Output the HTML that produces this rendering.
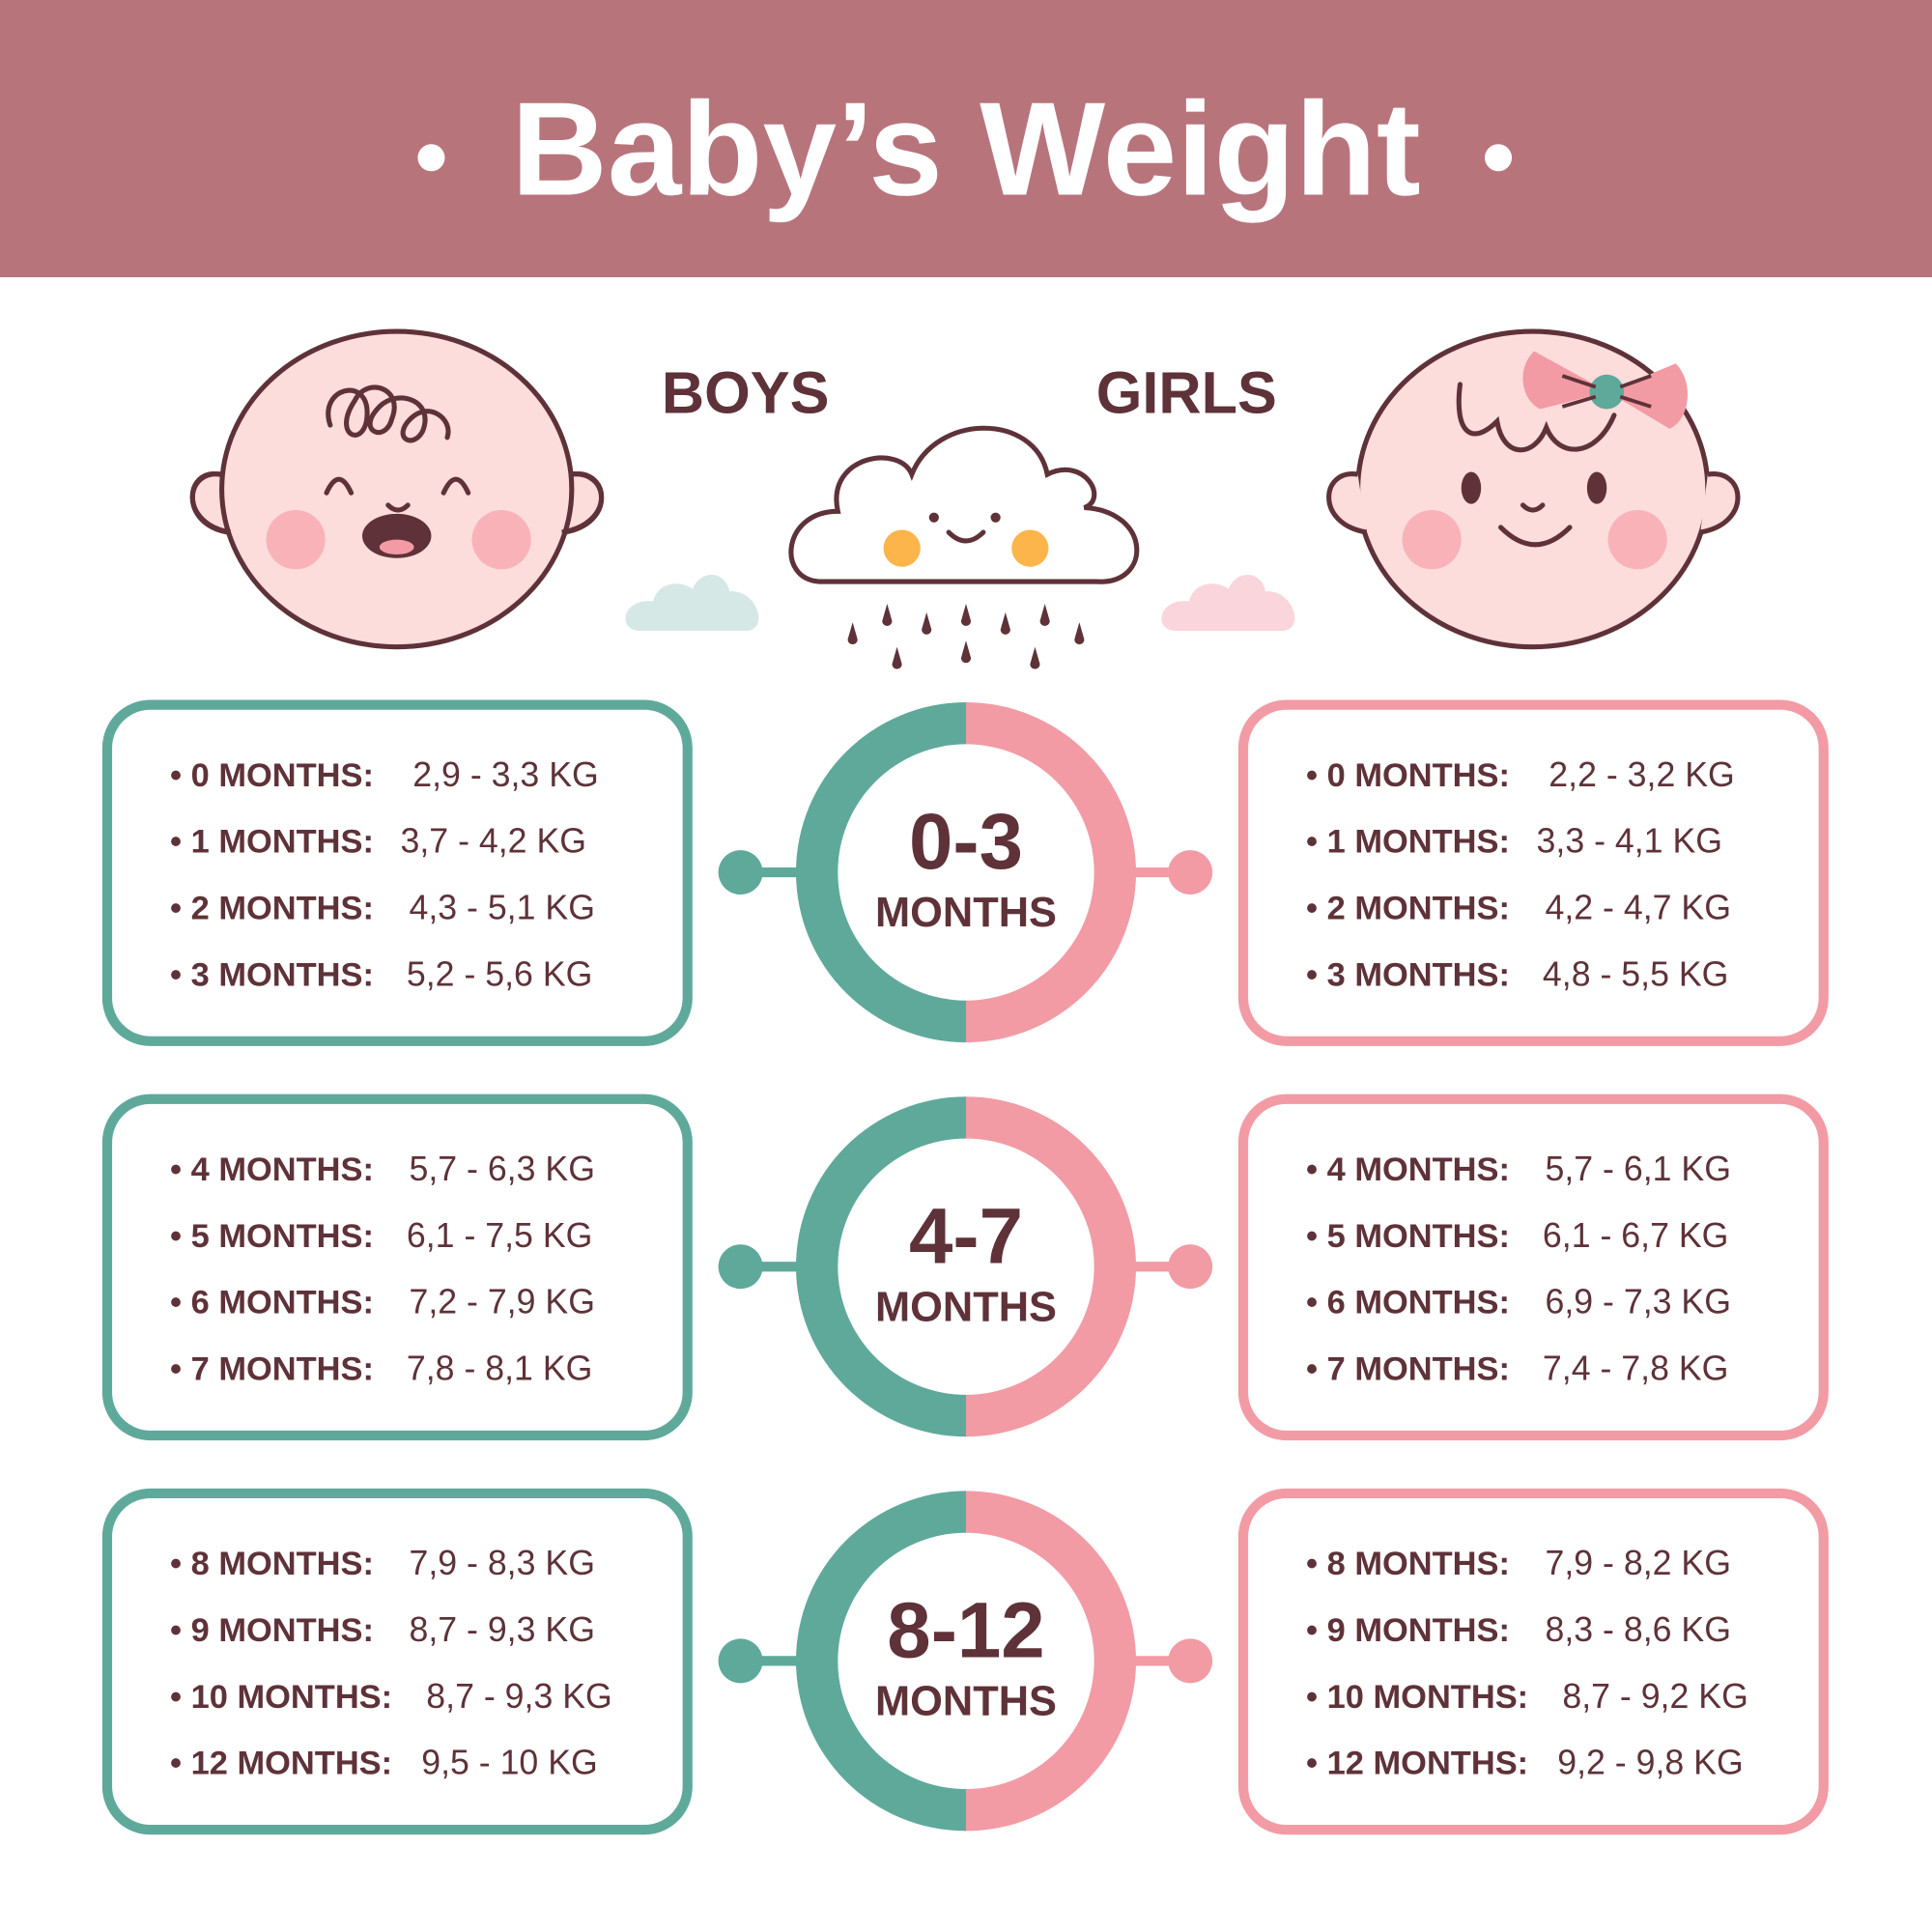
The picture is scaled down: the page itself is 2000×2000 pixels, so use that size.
<!DOCTYPE html>
<html><head><meta charset="utf-8"><style>
html,body{margin:0;padding:0;background:#fff}
svg{display:block}
.t{font-family:"Liberation Sans",sans-serif;fill:#5e3238}
.lb{font-weight:bold;font-size:27px}
.v{font-size:28px}
</style></head><body>
<svg width="2000" height="2000" viewBox="0 0 1568 1568" xmlns="http://www.w3.org/2000/svg">
<rect width="1568" height="1568" fill="#fff"/>
<rect width="1568" height="225" fill="#b8747b"/>
<circle cx="350" cy="128" r="11" fill="#fff"/>
<circle cx="1216" cy="128" r="11" fill="#fff"/>
<text x="784" y="158" text-anchor="middle" font-family="Liberation Sans,sans-serif" font-weight="bold" font-size="108" fill="#fff">Baby’s Weight</text>

<g stroke="#5e3238" stroke-width="4" fill="#fddcdc">
<path d="M180 385 C150 380 145 425 185 432 Z"/>
<path d="M462 385 C495 380 500 425 458 432 Z"/>
<ellipse cx="322" cy="397" rx="142" ry="128"/>
<path d="M178 385 C150 380 145 425 187 432" fill="none"/>
<path d="M464 385 C495 380 500 425 456 432" fill="none"/>
</g>
<circle cx="240" cy="438" r="24" fill="#f9b3b8"/>
<circle cx="407" cy="438" r="24" fill="#f9b3b8"/>
<g stroke="#5e3238" stroke-width="4" fill="none" stroke-linecap="round">
<path d="M265 400 q10 -22 20 0"/><path d="M360 400 q10 -22 20 0"/>
<path d="M315 410 q8 8 16 0"/>
<path d="M268 345 c-10 -30 30 -40 30 -10 c0 30 -30 20 -10 -10 c10 -20 40 -10 30 15 c-5 20 -30 10 -10 -10 c15 -15 45 -5 35 20 c-8 15 -25 5 -10 -10 c15 -15 35 0 30 15"/>
</g>
<ellipse cx="322" cy="435" rx="28" ry="18" fill="#5e3238"/>
<ellipse cx="322" cy="444" rx="14" ry="6" fill="#f29ba5"/>

<g stroke="#5e3238" stroke-width="4" fill="#fddcdc">
<ellipse cx="1244" cy="397" rx="142" ry="128"/>
<path d="M1102 385 C1072 380 1067 425 1109 432"/>
<path d="M1386 385 C1417 380 1422 425 1380 432"/>
</g>
<circle cx="1162" cy="438" r="24" fill="#f9b3b8"/>
<circle cx="1329" cy="438" r="24" fill="#f9b3b8"/>
<ellipse cx="1194" cy="396" rx="8" ry="13" fill="#5e3238"/>
<ellipse cx="1296" cy="396" rx="8" ry="13" fill="#5e3238"/>
<g stroke="#5e3238" stroke-width="4" fill="none" stroke-linecap="round">
<path d="M1218 428 q28 28 56 0"/>
<path d="M1236 410 q8 8 16 0"/>
<path d="M1185 312 c-5 40 10 50 30 30 c5 30 30 30 40 5 c10 25 40 25 55 -10"/>
</g>
<path d="M1305 318 L1245 285 C1230 300 1235 325 1250 332 Z" fill="#f29ba5"/>
<path d="M1305 318 L1360 295 C1375 310 1372 340 1355 348 Z" fill="#f29ba5"/>
<circle cx="1304" cy="318" r="14" fill="#5fa99b"/>
<g stroke="#5e3238" stroke-width="3"><line x1="1268" y1="305" x2="1295" y2="314"/><line x1="1268" y1="330" x2="1295" y2="322"/><line x1="1315" y1="314" x2="1340" y2="305"/><line x1="1315" y1="322" x2="1340" y2="330"/></g>

<text class="t" x="605" y="335" text-anchor="middle" font-weight="bold" font-size="48">BOYS</text>
<text class="t" x="963" y="335" text-anchor="middle" font-weight="bold" font-size="48">GIRLS</text>

<path d="M665 472 C630 470 635 415 680 415 C670 370 730 360 740 385 C760 335 840 335 850 385 C880 370 900 405 880 412 C935 415 935 475 890 472 Z" fill="#fff" stroke="#5e3238" stroke-width="4"/>
<circle cx="732" cy="445" r="15" fill="#fbb54a"/>
<circle cx="836" cy="445" r="15" fill="#fbb54a"/>
<g stroke="#5e3238" stroke-width="4" fill="none" stroke-linecap="round"><path d="M770 432 q14 14 28 0"/></g>
<circle cx="758" cy="420" r="4" fill="#5e3238"/><circle cx="808" cy="420" r="4" fill="#5e3238"/>
<g fill="#5e3238">
<path d="M692 505 l-4 14 a4 4 0 0 0 8 0z"/><path d="M720 490 l-4 14 a4 4 0 0 0 8 0z"/><path d="M752 497 l-4 14 a4 4 0 0 0 8 0z"/><path d="M784 490 l-4 14 a4 4 0 0 0 8 0z"/><path d="M816 497 l-4 14 a4 4 0 0 0 8 0z"/><path d="M848 490 l-4 14 a4 4 0 0 0 8 0z"/><path d="M876 505 l-4 14 a4 4 0 0 0 8 0z"/>
<path d="M728 525 l-4 14 a4 4 0 0 0 8 0z"/><path d="M784 520 l-4 14 a4 4 0 0 0 8 0z"/><path d="M840 525 l-4 14 a4 4 0 0 0 8 0z"/>
</g>
<path d="M520 512 C500 512 505 485 530 488 C535 470 555 472 562 478 C570 460 590 465 592 480 C615 478 625 512 605 512 Z" fill="#d5e8e6"/>
<path d="M955 512 C935 512 940 485 965 488 C970 470 990 472 997 478 C1005 460 1025 465 1027 480 C1050 478 1060 512 1040 512 Z" fill="#fbd5dc"/>

<g fill="none" stroke-width="8">
<rect x="87" y="572" width="471" height="273" rx="35" stroke="#5fa99b"/>
<rect x="87" y="892" width="471" height="273" rx="35" stroke="#5fa99b"/>
<rect x="87" y="1212" width="471" height="273" rx="35" stroke="#5fa99b"/>
<rect x="1009" y="572" width="471" height="273" rx="35" stroke="#f29ba5"/>
<rect x="1009" y="892" width="471" height="273" rx="35" stroke="#f29ba5"/>
<rect x="1009" y="1212" width="471" height="273" rx="35" stroke="#f29ba5"/>
</g>
<g id="c1">
<line x1="601" y1="708" x2="660" y2="708" stroke="#5fa99b" stroke-width="8"/>
<circle cx="601" cy="708" r="18" fill="#5fa99b"/>
<line x1="908" y1="708" x2="966" y2="708" stroke="#f29ba5" stroke-width="8"/>
<circle cx="966" cy="708" r="18" fill="#f29ba5"/>
<path d="M784 570 A138 138 0 0 0 784 846 Z" fill="#5fa99b"/>
<path d="M784 570 A138 138 0 0 1 784 846 Z" fill="#f29ba5"/>
<circle cx="784" cy="708" r="104" fill="#fff"/>
</g>
<use href="#c1" y="320"/>
<use href="#c1" y="640"/>
<g class="t" font-weight="bold" text-anchor="middle">
<text x="784" y="705" font-size="64">0-3</text><text x="784" y="752" font-size="34">MONTHS</text>
<text x="784" y="1025" font-size="64">4-7</text><text x="784" y="1072" font-size="34">MONTHS</text>
<text x="784" y="1345" font-size="64">8-12</text><text x="784" y="1392" font-size="34">MONTHS</text>
</g>

<g class="t">
<text x="138" y="638"><tspan class="lb">• 0 MONTHS:</tspan><tspan class="v" x="335">2,9 - 3,3 KG</tspan></text>
<text x="138" y="692"><tspan class="lb">• 1 MONTHS:</tspan><tspan class="v" x="325">3,7 - 4,2 KG</tspan></text>
<text x="138" y="746"><tspan class="lb">• 2 MONTHS:</tspan><tspan class="v" x="332">4,3 - 5,1 KG</tspan></text>
<text x="138" y="800"><tspan class="lb">• 3 MONTHS:</tspan><tspan class="v" x="330">5,2 - 5,6 KG</tspan></text>
<text x="138" y="958"><tspan class="lb">• 4 MONTHS:</tspan><tspan class="v" x="332">5,7 - 6,3 KG</tspan></text>
<text x="138" y="1012"><tspan class="lb">• 5 MONTHS:</tspan><tspan class="v" x="330">6,1 - 7,5  KG</tspan></text>
<text x="138" y="1066"><tspan class="lb">• 6 MONTHS:</tspan><tspan class="v" x="332">7,2 - 7,9 KG</tspan></text>
<text x="138" y="1120"><tspan class="lb">• 7 MONTHS:</tspan><tspan class="v" x="330">7,8 - 8,1 KG</tspan></text>
<text x="138" y="1278"><tspan class="lb">• 8 MONTHS:</tspan><tspan class="v" x="332">7,9 - 8,3 KG</tspan></text>
<text x="138" y="1332"><tspan class="lb">• 9 MONTHS:</tspan><tspan class="v" x="332">8,7 - 9,3 KG</tspan></text>
<text x="138" y="1386"><tspan class="lb">• 10 MONTHS:</tspan><tspan class="v" x="346">8,7 - 9,3 KG</tspan></text>
<text x="138" y="1440"><tspan class="lb">• 12 MONTHS:</tspan><tspan class="v" x="342">9,5 - 10 KG</tspan></text>

<text x="1060" y="638"><tspan class="lb">• 0 MONTHS:</tspan><tspan class="v" x="1257">2,2 - 3,2 KG</tspan></text>
<text x="1060" y="692"><tspan class="lb">• 1 MONTHS:</tspan><tspan class="v" x="1247">3,3 - 4,1 KG</tspan></text>
<text x="1060" y="746"><tspan class="lb">• 2 MONTHS:</tspan><tspan class="v" x="1254">4,2 - 4,7 KG</tspan></text>
<text x="1060" y="800"><tspan class="lb">• 3 MONTHS:</tspan><tspan class="v" x="1252">4,8 - 5,5 KG</tspan></text>
<text x="1060" y="958"><tspan class="lb">• 4 MONTHS:</tspan><tspan class="v" x="1254">5,7 - 6,1 KG</tspan></text>
<text x="1060" y="1012"><tspan class="lb">• 5 MONTHS:</tspan><tspan class="v" x="1252">6,1 - 6,7  KG</tspan></text>
<text x="1060" y="1066"><tspan class="lb">• 6 MONTHS:</tspan><tspan class="v" x="1254">6,9 - 7,3 KG</tspan></text>
<text x="1060" y="1120"><tspan class="lb">• 7 MONTHS:</tspan><tspan class="v" x="1252">7,4 - 7,8 KG</tspan></text>
<text x="1060" y="1278"><tspan class="lb">• 8 MONTHS:</tspan><tspan class="v" x="1254">7,9 - 8,2 KG</tspan></text>
<text x="1060" y="1332"><tspan class="lb">• 9 MONTHS:</tspan><tspan class="v" x="1254">8,3 - 8,6 KG</tspan></text>
<text x="1060" y="1386"><tspan class="lb">• 10 MONTHS:</tspan><tspan class="v" x="1268">8,7 - 9,2 KG</tspan></text>
<text x="1060" y="1440"><tspan class="lb">• 12 MONTHS:</tspan><tspan class="v" x="1264">9,2 - 9,8 KG</tspan></text>
</g>
</svg>
</body></html>
